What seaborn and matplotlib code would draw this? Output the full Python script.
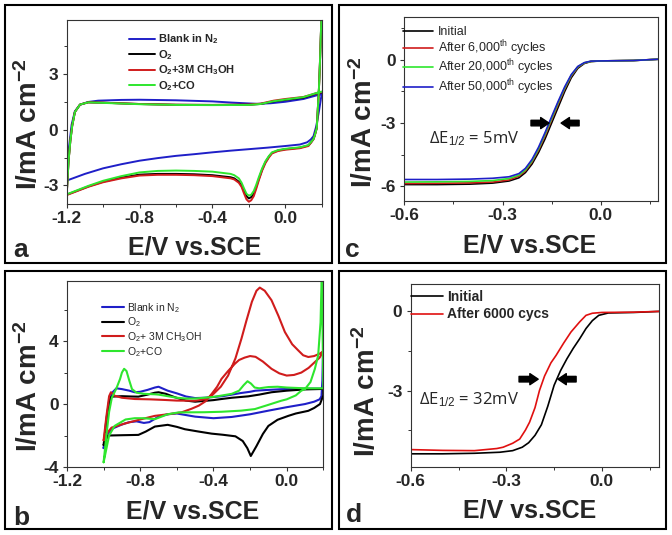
import numpy as np
import pandas as pd
import matplotlib
matplotlib.use("Agg")
import matplotlib.pyplot as plt
import seaborn as sns
from matplotlib.patches import Rectangle
from matplotlib.ticker import MultipleLocator

# ---------------- data: panel a (CV, 3M CH3OH / CO tolerance) ----------------
a_blank_x = [0.2, 0.185, 0.17, 0.155, 0.14, 0.12, 0.08, 0.0, -0.1, -0.2, -0.3, -0.4, -0.5, -0.6, -0.7, -0.8, -0.9, -1.0, -1.1, -1.2,
             -1.19, -1.173, -1.155, -1.127, -1.082, -1.027, -0.9, -0.8, -0.6, -0.4, -0.3, -0.2, -0.15, -0.08, 0.0, 0.1, 0.2]
a_blank_y = [1.92, 1.0, 0.18, -0.35, -0.53, -0.68, -0.8, -0.88, -0.97, -1.05, -1.13, -1.22, -1.32, -1.41, -1.53, -1.67, -1.86, -2.08, -2.38, -2.74,
             -1.16, 0.27, 0.99, 1.34, 1.49, 1.56, 1.6, 1.61, 1.58, 1.52, 1.46, 1.41, 1.39, 1.42, 1.5, 1.65, 1.92]

a_o2_x = [0.2, 0.19, 0.185, 0.173, 0.162, 0.155, 0.14, 0.127, 0.08, 0.0, -0.04, -0.073, -0.09, -0.109, -0.127, -0.145, -0.16, -0.173, -0.187, -0.2,
          -0.213, -0.227, -0.24, -0.255, -0.28, -0.3, -0.4, -0.5, -0.6, -0.7, -0.8, -0.9, -1.0, -1.08, -1.2,
          -1.195, -1.19, -1.18, -1.17, -1.155, -1.127, -1.082, -1.0, -0.8, -0.6, -0.4, -0.2, -0.136, -0.064, 0.0, 0.1, 0.173, 0.2]
a_o2_y = [6.5, 3.5, 2.24, 0.09, -0.3, -0.5, -0.7, -0.85, -0.97, -1.05, -1.12, -1.25, -1.45, -1.75, -2.15, -2.65, -3.1, -3.45, -3.63, -3.7,
          -3.58, -3.3, -3.0, -2.8, -2.62, -2.56, -2.45, -2.4, -2.38, -2.38, -2.42, -2.58, -2.8, -3.05, -3.5,
          -2.6, -1.7, -0.6, 0.2, 0.95, 1.35, 1.47, 1.45, 1.38, 1.34, 1.33, 1.34, 1.38, 1.52, 1.6, 1.72, 1.95, 2.0]

a_meoh_x = a_o2_x
a_meoh_y = [6.5, 3.5, 2.24, 0.09, -0.32, -0.52, -0.72, -0.88, -1.0, -1.08, -1.15, -1.28, -1.5, -1.8, -2.2, -2.72, -3.2, -3.58, -3.8, -3.88,
            -3.75, -3.42, -3.08, -2.86, -2.68, -2.62, -2.5, -2.45, -2.43, -2.43, -2.47, -2.62, -2.83, -3.07, -3.52,
            -2.6, -1.7, -0.6, 0.2, 0.95, 1.35, 1.47, 1.45, 1.38, 1.34, 1.33, 1.35, 1.4, 1.56, 1.65, 1.76, 1.97, 2.02]

a_co_x = a_o2_x
a_co_y = [6.5, 3.5, 2.24, 0.09, -0.3, -0.5, -0.68, -0.83, -0.95, -1.03, -1.1, -1.22, -1.42, -1.7, -2.08, -2.55, -2.98, -3.3, -3.5, -3.55,
          -3.45, -3.15, -2.85, -2.62, -2.45, -2.38, -2.26, -2.22, -2.2, -2.22, -2.3, -2.5, -2.75, -3.02, -3.48,
          -2.6, -1.7, -0.6, 0.2, 0.95, 1.35, 1.47, 1.44, 1.37, 1.33, 1.32, 1.33, 1.38, 1.53, 1.62, 1.75, 1.98, 2.05]

a_labels = ["Blank in N$_\\mathbf{2}$", "$\\mathbf{O_2}$", "$\\mathbf{O_2}$+3M CH$_\\mathbf{3}$OH", "$\\mathbf{O_2}$+CO"]

# ---------------- data: panel b ----------------
b_blank_x = [-1.0, -0.985, -0.97, -0.955, -0.93, -0.9, -0.86, -0.83, -0.8, -0.76, -0.72, -0.7, -0.68, -0.65, -0.6, -0.55, -0.5, -0.45, -0.4,
             -0.35, -0.3, -0.25, -0.2, -0.17, -0.1, 0.0, 0.1, 0.19, 0.2,
             0.2, 0.195, 0.19, 0.18, 0.15, 0.1, 0.05, 0.0, -0.1, -0.2, -0.3, -0.4, -0.5, -0.55, -0.6, -0.65, -0.7, -0.75, -0.78,
             -0.82, -0.86, -0.9, -0.95, -0.98, -1.0]
b_blank_y = [-2.8, -1.5, 0.0, 0.7, 1.0, 0.95, 0.85, 0.75, 0.78, 0.9, 1.05, 1.1, 1.0, 0.85, 0.68, 0.48, 0.38, 0.4, 0.45,
             0.5, 0.6, 0.7, 0.78, 0.85, 0.9, 0.96, 0.98, 0.98, 1.0,
             4.2, 1.5, 0.5, 0.3, 0.15, 0.0, -0.1, -0.2, -0.42, -0.65, -0.82, -0.9, -0.8, -0.7, -0.6, -0.65, -0.8, -1.15, -1.2,
             -1.1, -1.15, -1.3, -1.55, -1.9, -2.8]

b_o2_x = [-1.0, -0.985, -0.97, -0.957, -0.9, -0.85, -0.81, -0.76, -0.72, -0.7, -0.66, -0.61, -0.55, -0.5, -0.45, -0.4, -0.356, -0.3,
          -0.21, -0.15, -0.083, 0.0, 0.1, 0.2,
          0.2, 0.182, 0.15, 0.118, 0.05, 0.009, -0.05, -0.1, -0.13, -0.165, -0.196, -0.215, -0.24, -0.28, -0.35, -0.41, -0.48,
          -0.556, -0.6, -0.65, -0.72, -0.77, -0.81, -0.9, -0.976, -1.0]
b_o2_y = [-2.6, -1.0, 0.2, 0.47, 0.5, 0.48, 0.47, 0.6, 0.72, 0.75, 0.65, 0.43, 0.22, 0.15, 0.2, 0.25, 0.32, 0.4,
          0.49, 0.6, 0.75, 0.85, 0.93, 0.96,
          0.55, 0.0, -0.25, -0.43, -0.6, -0.75, -1.0, -1.39, -1.9, -2.67, -3.3, -2.8, -2.35, -2.05, -1.95, -1.88, -1.75,
          -1.6, -1.45, -1.32, -1.43, -1.75, -1.96, -1.98, -2.0, -2.6]

b_meoh_x = [-1.0, -0.985, -0.97, -0.96, -0.94, -0.9, -0.83, -0.75, -0.666, -0.6, -0.5, -0.45, -0.41, -0.36, -0.32, -0.28, -0.247,
            -0.22, -0.19, -0.165, -0.147, -0.12, -0.083, -0.045, -0.01, 0.03, 0.063, 0.09, 0.118, 0.15, 0.18, 0.2,
            0.18, 0.154, 0.12, 0.08, 0.04, 0.0, -0.04, -0.083, -0.13, -0.17, -0.2, -0.23, -0.26, -0.283, -0.32, -0.356,
            -0.38, -0.41, -0.44, -0.48, -0.52, -0.575, -0.65, -0.72, -0.8, -0.885, -0.957, -0.985, -1.0]
b_meoh_y = [-2.3, -0.8, 0.5, 0.75, 0.53, 0.4, 0.32, 0.3, 0.26, 0.22, 0.21, 0.3, 0.53, 1.1, 1.81, 2.9, 4.16,
            5.3, 6.5, 7.2, 7.4, 7.2, 6.6, 5.6, 4.58, 3.8, 3.41, 3.1, 2.99, 3.05, 3.2, 3.35,
            2.95, 2.67, 2.3, 2.0, 1.85, 1.81, 1.95, 2.24, 2.7, 3.0, 3.05, 2.95, 2.8, 2.56, 2.1, 1.6,
            1.1, 0.64, 0.2, -0.1, -0.3, -0.53, -0.65, -0.75, -0.98, -1.24, -1.5, -1.9, -2.3]

b_co_x = [-1.0, -0.985, -0.97, -0.955, -0.93, -0.91, -0.9, -0.888, -0.875, -0.86, -0.845, -0.82, -0.78, -0.72, -0.7, -0.65, -0.6,
          -0.55, -0.5, -0.45, -0.4, -0.35, -0.3, -0.26, -0.235, -0.214, -0.195, -0.175, -0.15, -0.1, -0.05, 0.0, 0.1, 0.2,
          0.192, 0.185, 0.172, 0.154, 0.13, 0.1, 0.08, 0.05, 0.0, -0.03, -0.1, -0.174, -0.25, -0.356, -0.45, -0.59, -0.65,
          -0.72, -0.78, -0.83, -0.88, -0.94, -0.97, -1.0]
b_co_y = [-3.7, -2.0, -0.5, 0.4, 1.0, 1.6, 2.0, 2.24, 2.1, 1.5, 0.95, 0.72, 0.65, 0.62, 0.6, 0.5, 0.4,
          0.35, 0.35, 0.4, 0.45, 0.55, 0.65, 0.85, 1.2, 1.45, 1.3, 1.05, 1.0, 1.08, 1.1, 1.05, 1.0, 1.0,
          8.5, 5.2, 3.1, 2.24, 1.4, 0.95, 0.85, 0.55, 0.3, 0.21, -0.05, -0.32, -0.42, -0.49, -0.52, -0.53, -0.65,
          -0.96, -0.9, -0.9, -0.98, -1.39, -2.0, -3.7]

b_labels = ["Blank in N$_2$", "O$_2$", "O$_2$+ 3M CH$_3$OH", "O$_2$+CO"]

# ---------------- data: panel c (durability LSV) ----------------
c_x = [-0.6, -0.5, -0.4, -0.33, -0.28, -0.25, -0.23, -0.21, -0.19, -0.17, -0.15, -0.13, -0.11, -0.09, -0.07, -0.05, -0.03, 0.0, 0.05, 0.1, 0.175]
c_initial = [-5.92, -5.92, -5.9, -5.85, -5.75, -5.6, -5.35, -4.95, -4.4, -3.75, -3.0, -2.25, -1.5, -0.85, -0.4, -0.17, -0.08, -0.05, -0.04, -0.03, 0.03]
c_6k = [-5.87, -5.86, -5.84, -5.8, -5.7, -5.52, -5.27, -4.85, -4.28, -3.6, -2.85, -2.1, -1.38, -0.77, -0.35, -0.15, -0.07, -0.05, -0.04, -0.03, 0.03]
c_20k = [-5.8, -5.79, -5.77, -5.73, -5.63, -5.47, -5.22, -4.8, -4.22, -3.52, -2.78, -2.03, -1.33, -0.73, -0.33, -0.14, -0.07, -0.05, -0.04, -0.03, 0.03]
c_50k = [-5.68, -5.68, -5.66, -5.62, -5.55, -5.4, -5.15, -4.73, -4.15, -3.45, -2.7, -1.97, -1.28, -0.7, -0.31, -0.13, -0.06, -0.05, -0.04, -0.03, 0.03]
c_labels = ["Initial", "After 6,000$^{\\rm th}$ cycles", "After 20,000$^{\\rm th}$ cycles", "After 50,000$^{\\rm th}$ cycles"]

# ---------------- data: panel d ----------------
d_init_x = [-0.6, -0.5, -0.4, -0.32, -0.28, -0.25, -0.23, -0.21, -0.19, -0.17, -0.15, -0.13, -0.11, -0.09, -0.07, -0.05, -0.03, -0.01, 0.02, 0.1, 0.18]
d_init_y = [-5.4, -5.4, -5.38, -5.34, -5.28, -5.15, -4.98, -4.7, -4.3, -3.6, -2.8, -2.25, -1.8, -1.4, -1.04, -0.65, -0.35, -0.15, -0.06, -0.04, 0.0]
d_6k_x = [-0.6, -0.5, -0.4, -0.33, -0.31, -0.28, -0.258, -0.24, -0.227, -0.21, -0.196, -0.18, -0.16, -0.144, -0.12, -0.097, -0.07, -0.05, -0.03, 0.0, 0.1, 0.18]
d_6k_y = [-5.24, -5.27, -5.28, -5.2, -5.15, -5.0, -4.84, -4.5, -4.2, -3.65, -3.0, -2.45, -1.95, -1.67, -1.2, -0.78, -0.4, -0.15, -0.07, -0.04, -0.03, 0.0]
d_labels = ["Initial", "After 6000 cycs"]

# ---------------- style ----------------
sns.set_style("ticks")
plt.rcParams["font.family"] = ["Liberation Sans", "DejaVu Sans"]
plt.rcParams["mathtext.fontset"] = "custom"
plt.rcParams["mathtext.rm"] = "Liberation Sans"
plt.rcParams["mathtext.it"] = "Liberation Sans:italic"
plt.rcParams["mathtext.bf"] = "Liberation Sans:bold"
plt.rcParams["axes.unicode_minus"] = False

W, H = 672, 535
fig = plt.figure(figsize=(6.72, 5.35), dpi=100)


def fx(x):
    return x / W


def fy(y):
    return 1 - y / H


def make_ax(left, top, right, bottom):
    return fig.add_axes([fx(left), fy(bottom), (right - left) / W, (bottom - top) / H])


def cv_frame(names, xs, ys):
    frames = []
    for n, x, y in zip(names, xs, ys):
        frames.append(pd.DataFrame({"E": x, "I": y, "s": n}))
    return pd.concat(frames, ignore_index=True)


def style_ax(ax, xlim, ylim, xmaj, xmin, ymaj, ymin, xlab_pos, ylab_pos):
    ax.set_xlim(*xlim)
    ax.set_ylim(*ylim)
    ax.xaxis.set_major_locator(MultipleLocator(xmaj))
    ax.xaxis.set_minor_locator(MultipleLocator(xmin))
    ax.yaxis.set_major_locator(MultipleLocator(ymaj))
    ax.yaxis.set_minor_locator(MultipleLocator(ymin))
    for sp in ax.spines.values():
        sp.set_linewidth(0.8)
        sp.set_color("#333333")
    ax.tick_params(which="major", direction="out", length=3, width=0.8, color="#333333", labelsize=12.5, pad=2)
    ax.tick_params(which="minor", direction="out", length=2, width=0.7, color="#333333")
    ax.tick_params(axis="y", which="major", pad=3)
    for lab in ax.get_xticklabels() + ax.get_yticklabels():
        lab.set_fontweight("bold")
    ax.set_xlabel("E/V vs.SCE", fontsize=18, fontweight="bold")
    ax.set_ylabel("$\\mathbf{I/mA\\ cm^{-2}}$", fontsize=20)
    ax.xaxis.set_label_coords(*xlab_pos)
    ax.yaxis.set_label_coords(*ylab_pos)
    ax.xaxis.label.set_va("center")
    ax.yaxis.label.set_va("center")
    ax.yaxis.label.set_ha("center")


def fmt1(v, pos):
    return f"{v:.1f}"


def fmt0(v, pos):
    return f"{v:.0f}"


blue, black, red, green = "#1f1fc8", "#000000", "#d01c1c", "#2ee62e"

# ---- panel a ----
axa = make_ax(66.7, 20, 321.7, 204)
dfa = cv_frame(["blank", "o2", "meoh", "co"],
               [a_blank_x, a_o2_x, a_meoh_x, a_co_x],
               [a_blank_y, a_o2_y, a_meoh_y, a_co_y])
pal4 = {"blank": blue, "o2": black, "meoh": red, "co": green}
sns.lineplot(data=dfa, x="E", y="I", hue="s", hue_order=["blank", "o2", "meoh", "co"], palette=pal4,
             sort=False, estimator=None, legend=False, lw=1.4, ax=axa)
style_ax(axa, (-1.2, 0.2), (-4.0, 5.9), 0.4, 0.2, 3, 1.5, (0.503, -0.234), (-0.15, 0.435))
axa.xaxis.set_major_formatter(fmt1)
axa.yaxis.set_major_formatter(fmt0)
axa.legend(axa.lines[:4], a_labels, loc="upper left", bbox_to_anchor=(fx(129), fy(32.5)), bbox_transform=fig.transFigure,
           frameon=False, borderpad=0, borderaxespad=0, handlelength=2.35, handletextpad=0.3, labelspacing=0.15,
           prop={"size": 8, "weight": "bold"})

# ---- panel b ----
axb = make_ax(67, 281.3, 323.3, 467)
dfb = cv_frame(["blank", "o2", "meoh", "co"],
               [b_blank_x, b_o2_x, b_meoh_x, b_co_x],
               [b_blank_y, b_o2_y, b_meoh_y, b_co_y])
sns.lineplot(data=dfb, x="E", y="I", hue="s", hue_order=["blank", "o2", "meoh", "co"], palette=pal4,
             sort=False, estimator=None, legend=False, lw=1.5, ax=axb)
style_ax(axb, (-1.2, 0.2), (-4.0, 7.8), 0.4, 0.2, 4, 2, (0.49, -0.237), (-0.148, 0.436))
axb.xaxis.set_major_formatter(fmt1)
axb.yaxis.set_major_formatter(fmt0)
axb.legend(axb.lines[:4], b_labels, loc="upper left", bbox_to_anchor=(fx(101.7), fy(300.8)), bbox_transform=fig.transFigure,
           frameon=False, borderpad=0, borderaxespad=0, handlelength=2.1, handletextpad=0.3, labelspacing=0.08,
           prop={"size": 7.5})

# ---- panel c ----
axc = make_ax(404.3, 16.7, 658, 201)
dfc = pd.concat([pd.DataFrame({"E": c_x, "I": v, "s": n}) for n, v in
                 zip(["init", "6k", "20k", "50k"], [c_initial, c_6k, c_20k, c_50k])], ignore_index=True)
sns.lineplot(data=dfc, x="E", y="I", hue="s", hue_order=["init", "6k", "20k", "50k"],
             palette={"init": black, "6k": red, "20k": green, "50k": blue},
             sort=False, estimator=None, legend=False, lw=1.2, ax=axc)
style_ax(axc, (-0.6, 0.175), (-6.7, 2.05), 0.3, 0.15, 3, 1.5, (0.4935, -0.239), (-0.16, 0.426))
axc.xaxis.set_major_formatter(fmt1)
axc.yaxis.set_major_formatter(fmt0)
axc.legend(axc.lines[:4], c_labels, loc="upper left", bbox_to_anchor=(fx(403), fy(26)), bbox_transform=fig.transFigure,
           frameon=False, borderpad=0, borderaxespad=0, handlelength=2.4, handletextpad=0.4, labelspacing=0.0,
           prop={"size": 9})
arrow_style = "simple,head_length=0.6,head_width=0.8,tail_width=0.4"
axc.annotate("", xy=(-0.158, -3.0), xytext=(-0.213, -3.0),
             arrowprops=dict(arrowstyle=arrow_style, color="black", shrinkA=0, shrinkB=0, mutation_scale=10))
axc.annotate("", xy=(-0.121, -3.0), xytext=(-0.066, -3.0),
             arrowprops=dict(arrowstyle=arrow_style, color="black", shrinkA=0, shrinkB=0, mutation_scale=10))
fig.text(fx(429), fy(143), "ΔE$_{1/2}$ = 5mV", fontsize=12, family=["Open Sans", "DejaVu Sans"], va="baseline", ha="left")

# ---- panel d ----
axd = make_ax(410.7, 283.7, 659.3, 467)
dfd = pd.concat([pd.DataFrame({"E": d_init_x, "I": d_init_y, "s": "init"}),
                 pd.DataFrame({"E": d_6k_x, "I": d_6k_y, "s": "6k"})], ignore_index=True)
sns.lineplot(data=dfd, x="E", y="I", hue="s", hue_order=["init", "6k"], palette={"init": black, "6k": "#e01010"},
             sort=False, estimator=None, legend=False, lw=1.2, ax=axd)
style_ax(axd, (-0.6, 0.18), (-5.9, 1.05), 0.3, 0.15, 3, 1.5, (0.478, -0.235), (-0.178, 0.415))
axd.xaxis.set_major_formatter(fmt1)
axd.yaxis.set_major_formatter(fmt0)
axd.legend(axd.lines[:2], d_labels, loc="upper left", bbox_to_anchor=(fx(410.7), fy(290)), bbox_transform=fig.transFigure,
           frameon=False, borderpad=0, borderaxespad=0, handlelength=2.3, handletextpad=0.3, labelspacing=0.25,
           prop={"size": 10, "weight": "bold"})
axd.annotate("", xy=(-0.2, -2.57), xytext=(-0.26, -2.57),
             arrowprops=dict(arrowstyle=arrow_style, color="black", shrinkA=0, shrinkB=0, mutation_scale=10))
axd.annotate("", xy=(-0.138, -2.57), xytext=(-0.081, -2.57),
             arrowprops=dict(arrowstyle=arrow_style, color="black", shrinkA=0, shrinkB=0, mutation_scale=10))
fig.text(fx(419), fy(404), "ΔE$_{1/2}$ = 32mV", fontsize=12, family=["Open Sans", "DejaVu Sans"], va="baseline", ha="left")

# ---- frames and panel letters ----
for (x0, y0, x1, y1) in [(5, 5, 332, 263), (339, 5, 666, 263), (5, 271, 332, 529), (339, 271, 666, 529)]:
    fig.add_artist(Rectangle((fx(x0), fy(y1)), (x1 - x0) / W, (y1 - y0) / H, transform=fig.transFigure,
                             fill=False, lw=1.5, ec="black"))
for letter, x, y in [("a", 13, 257), ("c", 345, 257), ("b", 13, 525), ("d", 346, 522)]:
    fig.text(fx(x), fy(y), letter, fontsize=19, fontweight="bold", va="baseline", ha="left")

fig.savefig("out.png", dpi=100)
